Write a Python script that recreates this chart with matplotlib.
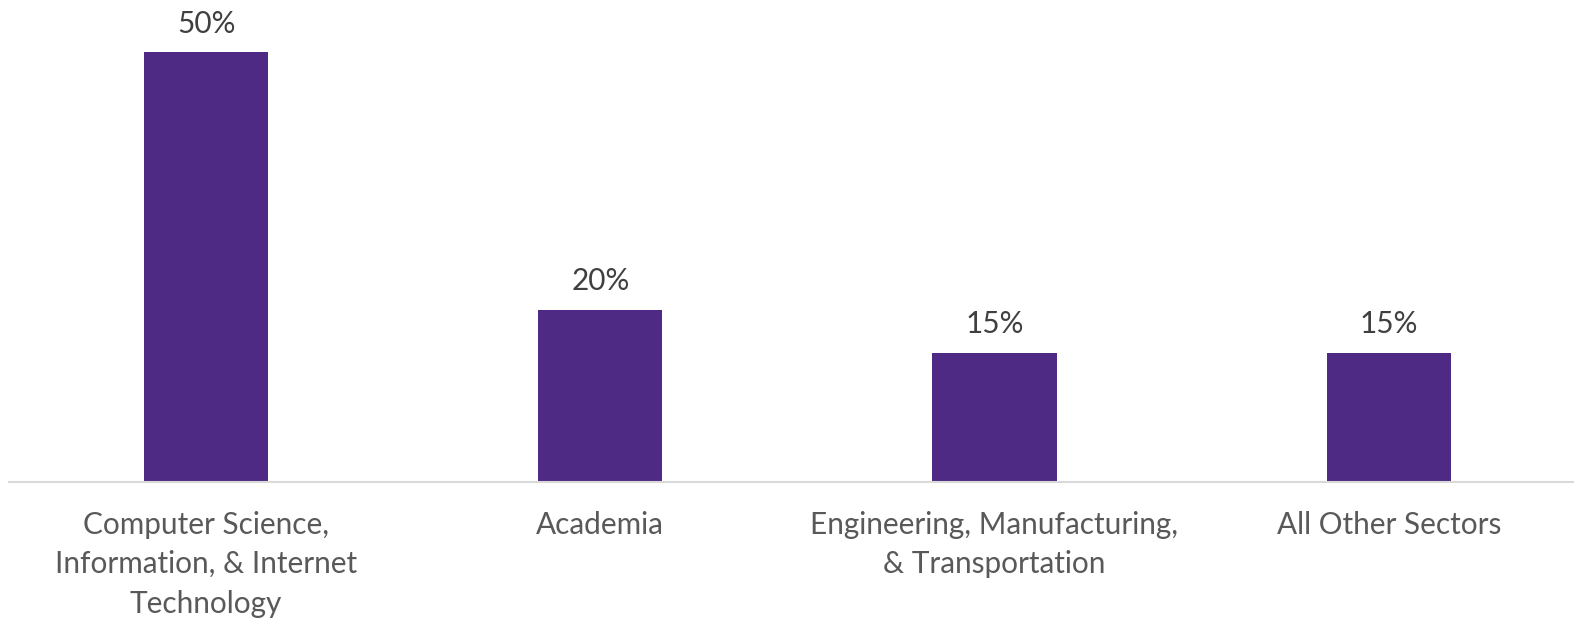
import matplotlib.pyplot as plt

categories = ["Computer Science,\nInformation, & Internet\nTechnology",
              "Academia",
              "Engineering, Manufacturing,\n& Transportation",
              "All Other Sectors"]
values = [0.50, 0.20, 0.15, 0.15]
value_labels = ["50%", "20%", "15%", "15%"]

plt.rcParams['font.family'] = ['Lato', 'DejaVu Sans']

fig = plt.figure(figsize=(15.74, 6.19), dpi=100)
ax = fig.add_axes([8.9/1574, 137.4/619, 1577/1574, 481.6/619])

x = range(len(categories))
ax.bar(x, values, width=0.315, color='#4E2A84')
ax.set_xlim(-0.5, len(categories) - 0.5)
ax.set_ylim(0, 0.5605)

for i, v in enumerate(values):
    ax.annotate(value_labels[i], (i, v), xytext=(0, 20.5), textcoords='offset points',
                ha='center', va='center', fontsize=21.4, color='#404040')

ax.set_xticks(list(x))
ax.set_xticklabels(categories, fontsize=21.4, color='#595959', linespacing=1.5)
ax.tick_params(axis='x', length=0, pad=21)
ax.set_yticks([])
for s in ['top', 'right', 'left']:
    ax.spines[s].set_visible(False)
ax.spines['bottom'].set_color('#D9D9D9')
ax.spines['bottom'].set_linewidth(1.5)

fig.savefig('out.png', dpi=100)
